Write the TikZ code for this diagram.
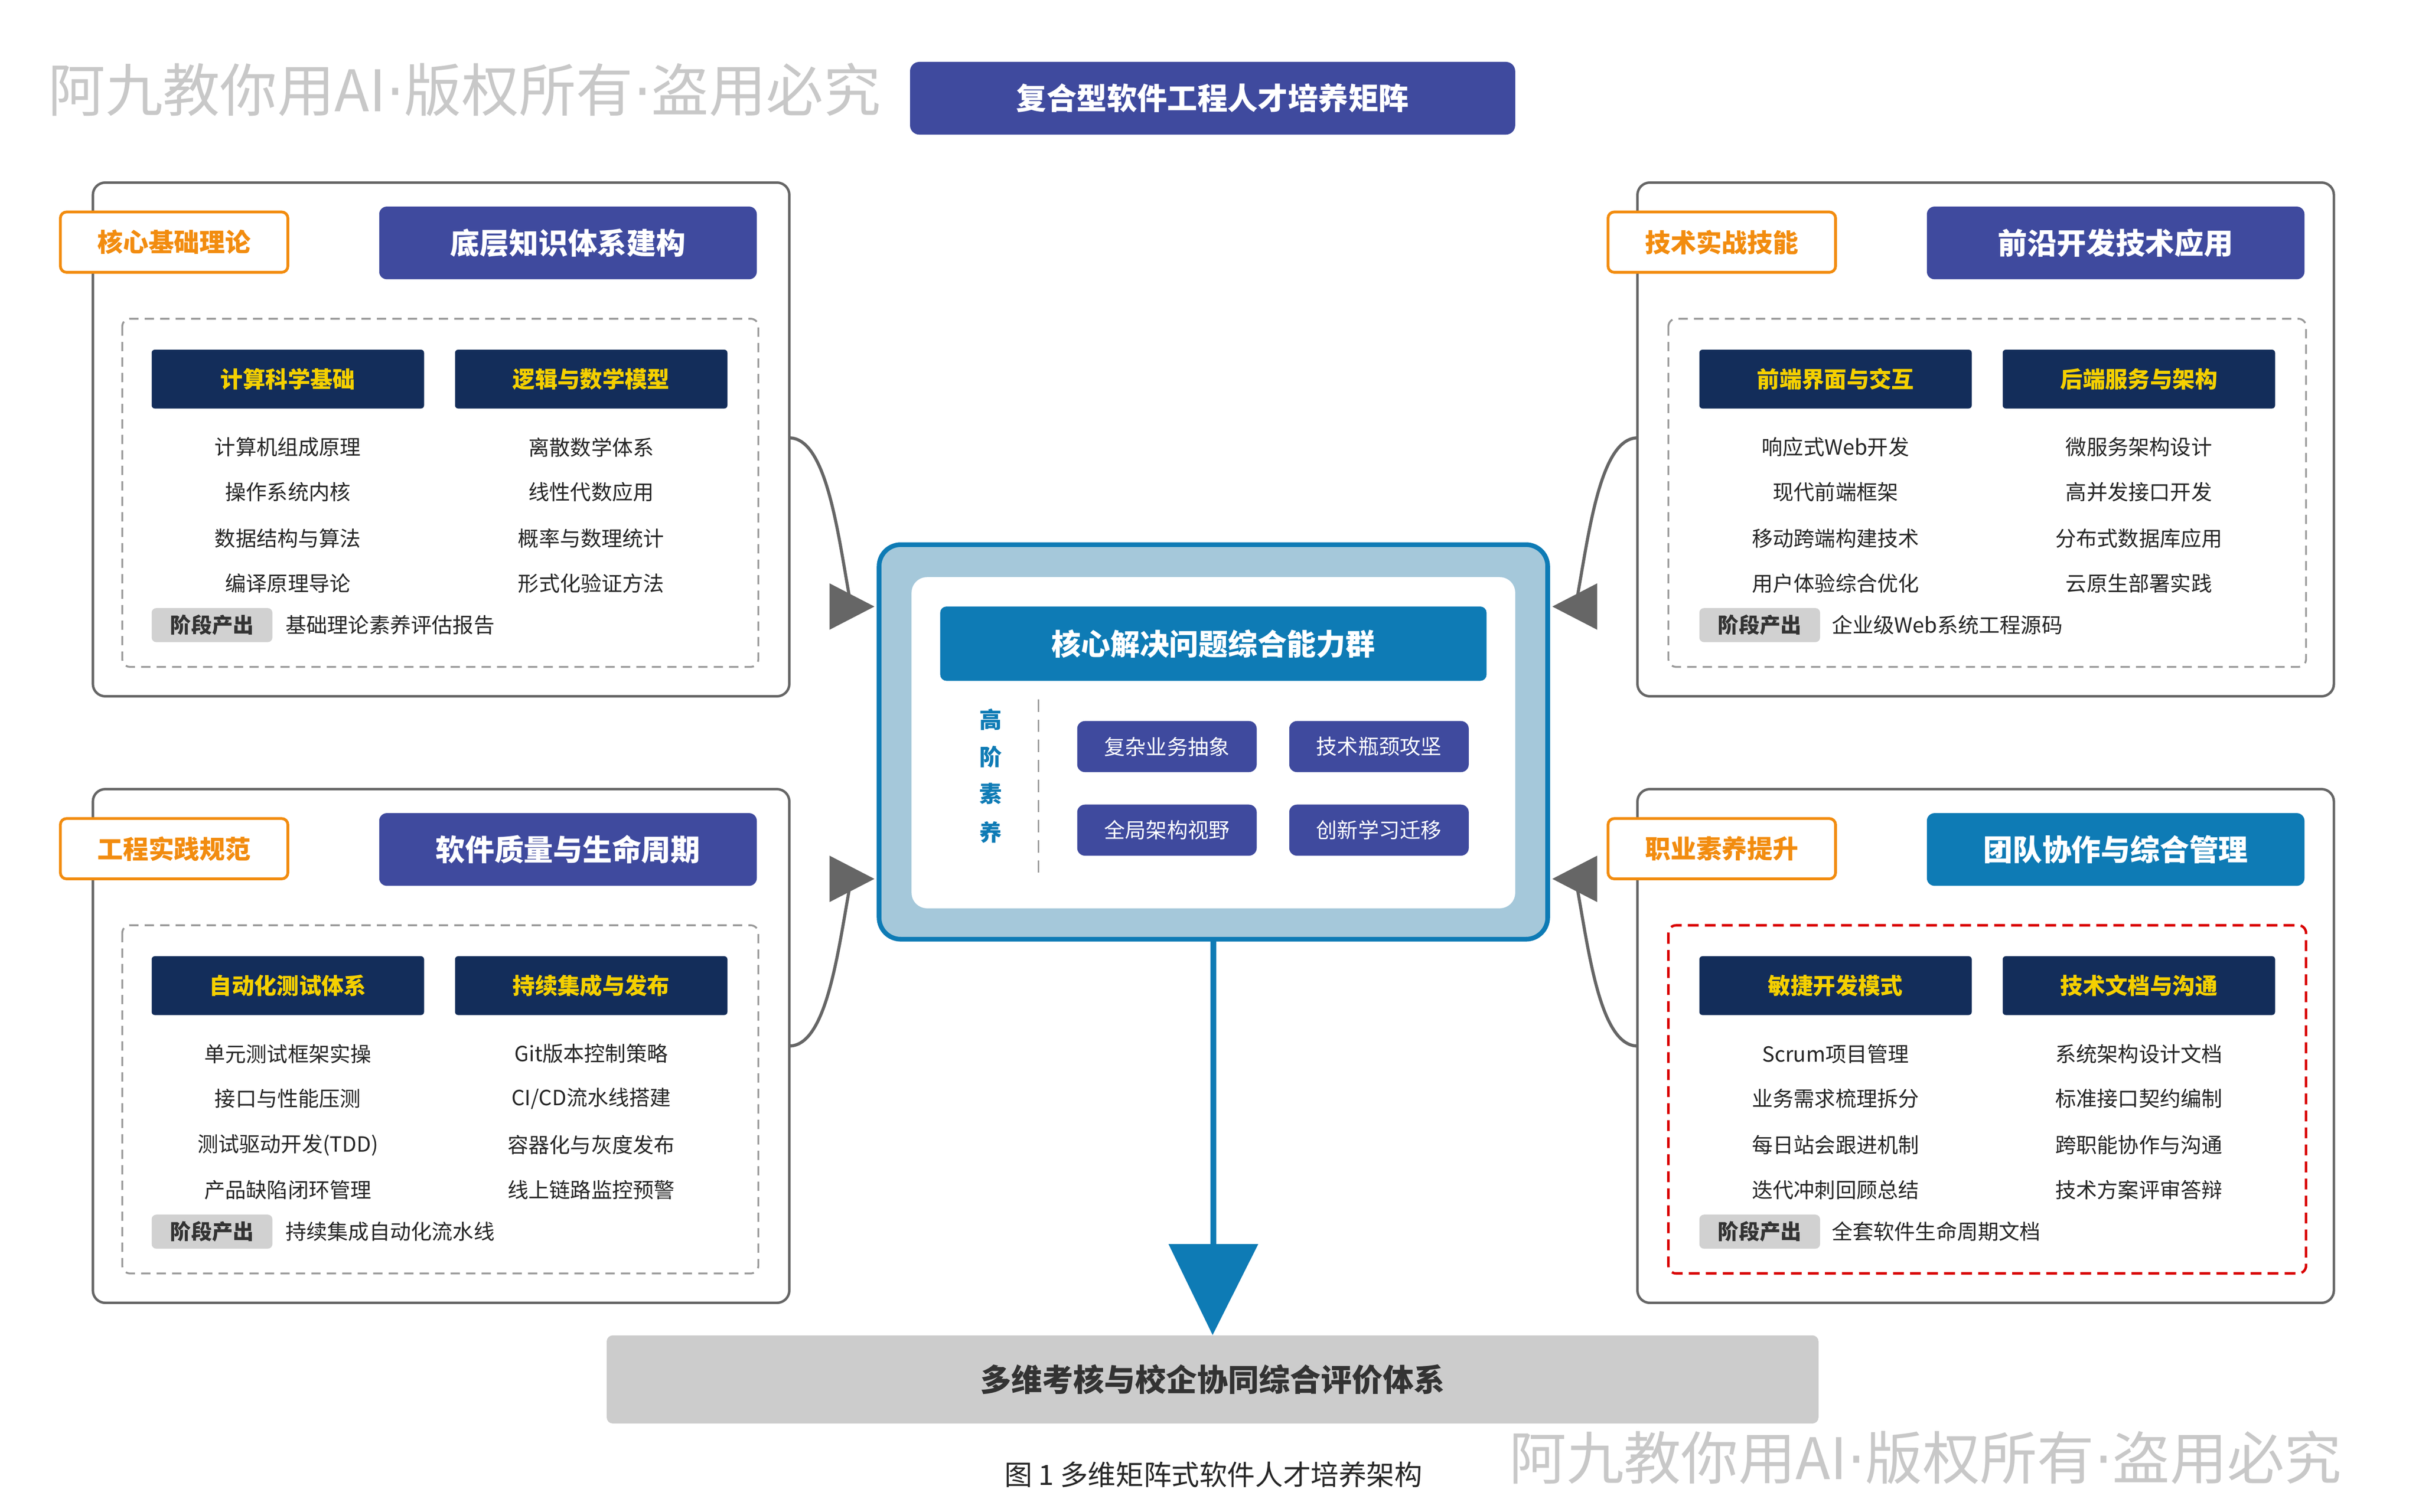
\documentclass[tikz,border=0pt]{standalone}
\usepackage{fontspec}
\setmainfont{Noto Sans CJK SC}
\newfontfamily\latdot{DejaVu Sans}
\newcommand{\wdot}{{\latdot ·}}
\usetikzlibrary{arrows.meta}
\definecolor{indigo}{HTML}{3F4A9E}
\definecolor{navy}{HTML}{132D5A}
\definecolor{teal}{HTML}{0E7BB5}
\definecolor{ltblue}{HTML}{A5C8DA}
\definecolor{orng}{HTML}{F28C0F}
\definecolor{yel}{HTML}{F5D000}
\definecolor{gline}{HTML}{666666}
\definecolor{wm}{HTML}{C8C8C8}
\tikzset{
  outer/.style={draw=gline,line width=1.6pt,rounded corners=8pt,fill=white},
  tag/.style={draw=orng,line width=1.8pt,rounded corners=4pt,fill=white,text=orng,font=\fontsize{16.5}{16.5}\selectfont\bfseries,minimum width=147pt,minimum height=39pt},
  head/.style={fill=indigo,rounded corners=5pt,text=white,font=\fontsize{19}{19}\selectfont\bfseries,minimum width=244pt,minimum height=47pt},
  dbox/.style={draw=gray!80,dashed,line width=1.2pt,dash pattern=on 6pt off 4pt,rounded corners=5pt},
  sub/.style={fill=navy,rounded corners=2pt,text=yel,font=\fontsize{14.5}{14.5}\selectfont\bfseries,minimum width=176pt,minimum height=38pt},
  item/.style={font=\fontsize{13.5}{13.5}\selectfont,text=black!85},
  stage/.style={fill=black!18,rounded corners=3pt,font=\fontsize{13.5}{13.5}\selectfont\bfseries,text=black!80,minimum width=78pt,minimum height=22pt},
  small/.style={fill=indigo,rounded corners=5pt,text=white,font=\fontsize{13.5}{13.5}\selectfont,minimum width=116pt,minimum height=33pt},
  conn/.style={draw=gline,line width=2pt},
  tri/.style={fill=gline},
  wmark/.style={text=wm,font=\fontsize{37}{37}\selectfont},
}
\begin{document}
\begin{tikzpicture}[x=1pt,y=-1pt]
\useasboundingbox (0,0) rectangle (1563,977);
% watermarks
\node[wmark,anchor=west,inner sep=0pt] (wm1) at (31,58) {阿九教你用AI\wdot 版权所有\wdot 盗用必究};
\node[wmark,anchor=west,inner sep=0pt] (wm2) at (975,942) {阿九教你用AI\wdot 版权所有\wdot 盗用必究};
% title
\node[fill=indigo,rounded corners=6pt,text=white,font=\fontsize{19.5}{19.5}\selectfont\bfseries,minimum width=391pt,minimum height=47pt] (title) at (783.5,63.5) {复合型软件工程人才培养矩阵};

% ===== Panel 1 (top-left)
\draw[outer] (60,118) rectangle (510,450);
\node[tag] (t1) at (112.5,156.5) {核心基础理论};
\node[head] (h1) at (367,157) {底层知识体系建构};
\draw[dbox] (79,206) rectangle (490,431);
\node[sub] (s11) at (186,245) {计算科学基础};
\node[sub] (s12) at (382,245) {逻辑与数学模型};
\node[item] (i111) at (186,289) {计算机组成原理};
\node[item] (i112) at (186,318) {操作系统内核};
\node[item] (i113) at (186,348) {数据结构与算法};
\node[item] (i114) at (186,377) {编译原理导论};
\node[item] (i121) at (382,289) {离散数学体系};
\node[item] (i122) at (382,318) {线性代数应用};
\node[item] (i123) at (382,348) {概率与数理统计};
\node[item] (i124) at (382,377) {形式化验证方法};
\node[stage] (st1) at (137,404) {阶段产出};
\node[item,anchor=west] (o1) at (181,404) {基础理论素养评估报告};

% ===== Panel 2 (bottom-left)
\draw[outer] (60,510) rectangle (510,842);
\node[tag] (t2) at (112.5,548.5) {工程实践规范};
\node[head] (h2) at (367,549) {软件质量与生命周期};
\draw[dbox] (79,598) rectangle (490,823);
\node[sub] (s21) at (186,637) {自动化测试体系};
\node[sub] (s22) at (382,637) {持续集成与发布};
\node[item] (i211) at (186,681) {单元测试框架实操};
\node[item] (i212) at (186,710) {接口与性能压测};
\node[item] (i213) at (186,740) {测试驱动开发(TDD)};
\node[item] (i214) at (186,769) {产品缺陷闭环管理};
\node[item] (i221) at (382,681) {Git版本控制策略};
\node[item] (i222) at (382,710) {CI/CD流水线搭建};
\node[item] (i223) at (382,740) {容器化与灰度发布};
\node[item] (i224) at (382,769) {线上链路监控预警};
\node[stage] (st2) at (137,796) {阶段产出};
\node[item,anchor=west] (o2) at (181,796) {持续集成自动化流水线};

% ===== Panel 3 (top-right)
\draw[outer] (1058,118) rectangle (1508,450);
\node[tag] (t3) at (1112.5,156.5) {技术实战技能};
\node[head] (h3) at (1367,157) {前沿开发技术应用};
\draw[dbox] (1078,206) rectangle (1490,431);
\node[sub] (s31) at (1186,245) {前端界面与交互};
\node[sub] (s32) at (1382,245) {后端服务与架构};
\node[item] (i311) at (1186,289) {响应式Web开发};
\node[item] (i312) at (1186,318) {现代前端框架};
\node[item] (i313) at (1186,348) {移动跨端构建技术};
\node[item] (i314) at (1186,377) {用户体验综合优化};
\node[item] (i321) at (1382,289) {微服务架构设计};
\node[item] (i322) at (1382,318) {高并发接口开发};
\node[item] (i323) at (1382,348) {分布式数据库应用};
\node[item] (i324) at (1382,377) {云原生部署实践};
\node[stage] (st3) at (1137,404) {阶段产出};
\node[item,anchor=west] (o3) at (1180,404) {企业级Web系统工程源码};

% ===== Panel 4 (bottom-right)
\draw[outer] (1058,510) rectangle (1508,842);
\node[tag] (t4) at (1112.5,548.5) {职业素养提升};
\node[head,fill=teal] (h4) at (1367,549) {团队协作与综合管理};
\draw[dbox,draw=red!85!black,dash pattern=on 7pt off 4pt,line width=1.6pt] (1078,598) rectangle (1490,823);
\node[sub] (s41) at (1186,637) {敏捷开发模式};
\node[sub] (s42) at (1382,637) {技术文档与沟通};
\node[item] (i411) at (1186,681) {Scrum项目管理};
\node[item] (i412) at (1186,710) {业务需求梳理拆分};
\node[item] (i413) at (1186,740) {每日站会跟进机制};
\node[item] (i414) at (1186,769) {迭代冲刺回顾总结};
\node[item] (i421) at (1382,681) {系统架构设计文档};
\node[item] (i422) at (1382,710) {标准接口契约编制};
\node[item] (i423) at (1382,740) {跨职能协作与沟通};
\node[item] (i424) at (1382,769) {技术方案评审答辩};
\node[stage] (st4) at (1137,796) {阶段产出};
\node[item,anchor=west] (o4) at (1180,796) {全套软件生命周期文档};

% ===== Center
\draw[fill=ltblue,draw=teal,line width=3pt,rounded corners=14pt] (568,352) rectangle (1000,607);
\node[fill=white,rounded corners=10pt,minimum width=390pt,minimum height=214pt] (inner) at (784,480) {};
\node[fill=teal,rounded corners=4pt,text=white,font=\fontsize{19}{19}\selectfont\bfseries,minimum width=353pt,minimum height=48pt] (core) at (784,416) {核心解决问题综合能力群};
\draw[gray!80,line width=1pt,dash pattern=on 8pt off 5pt] (671,452) -- (671,566);
\foreach \c/\yy in {高/465,阶/489,素/513,养/538}
  \node[text=teal,font=\fontsize{14.5}{14.5}\selectfont\bfseries] at (640,\yy) {\c};
\node[small] (c1) at (754,482.5) {复杂业务抽象};
\node[small] (c2) at (891,482.5) {技术瓶颈攻坚};
\node[small] (c3) at (754,536.5) {全局架构视野};
\node[small] (c4) at (891,536.5) {创新学习迁移};

% connectors
\coordinate (p1) at (510,283); \coordinate (q1) at (550,392);
\coordinate (p2) at (510,676); \coordinate (q2) at (550,568);
\coordinate (p3) at (1058,283); \coordinate (q3) at (1018,392);
\coordinate (p4) at (1058,676); \coordinate (q4) at (1018,568);
\draw[conn] (p1) .. controls (535,283) and (542,350) .. (q1);
\draw[conn] (p2) .. controls (535,676) and (542,610) .. (q2);
\draw[conn] (p3) .. controls (1033,283) and (1026,350) .. (q3);
\draw[conn] (p4) .. controls (1033,676) and (1026,610) .. (q4);
\fill[tri] (536,377) -- (565,392) -- (536,407) -- cycle;
\fill[tri] (536,553) -- (565,568) -- (536,583) -- cycle;
\fill[tri] (1032,377) -- (1003,392) -- (1032,407) -- cycle;
\fill[tri] (1032,553) -- (1003,568) -- (1032,583) -- cycle;

% bottom
\node[fill=black!20,rounded corners=4pt,text=black!80,font=\fontsize{20}{20}\selectfont\bfseries,minimum width=783pt,minimum height=57pt] (eval) at (783.5,891.5) {多维考核与校企协同综合评价体系};
\coordinate (cb) at (784,607);
\draw[teal,line width=4pt] (cb) -- (784,808);
\fill[teal] (755,804) -- (813,804) -- (eval.north) -- cycle;
\node[font=\fontsize{18}{18}\selectfont,text=black!85] (cap) at (784,953) {图 1 多维矩阵式软件人才培养架构};
\end{tikzpicture}
\end{document}
